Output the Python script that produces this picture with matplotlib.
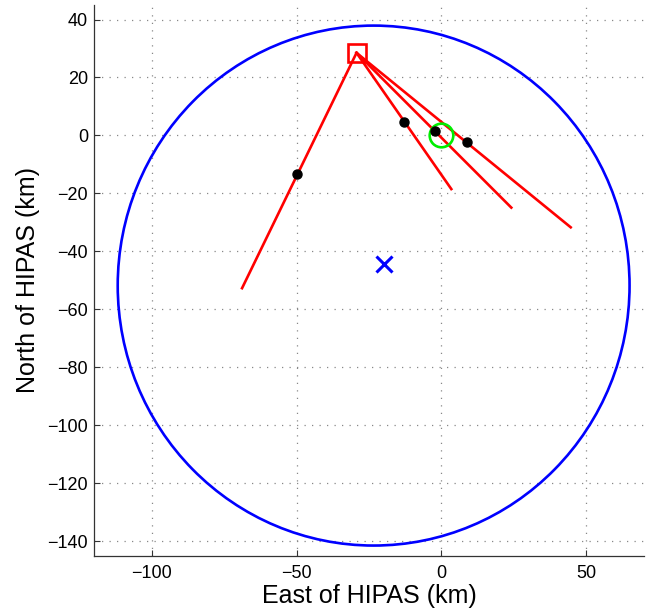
import numpy as np
import matplotlib
matplotlib.use("Agg")
import matplotlib.pyplot as plt
from matplotlib.patches import Ellipse

plt.rcParams['font.family'] = ['Liberation Sans', 'DejaVu Sans']

# transmitter location (red square) and the ray end points
tx_x, tx_y = -29.3, 28.5
end_x = [-68.8, 3.4, 24.1, 44.6]
end_y = [-52.7, -18.5, -24.9, -31.7]

# black dots along the rays
dot_x = [-49.7, -12.9, -2.2, 8.7]
dot_y = [-13.2, 4.7, 1.5, -2.4]

# HIPAS (green), blue cross, range ring
hipas_x, hipas_y = 0.0, 0.0
cross_x, cross_y = -19.8, -44.3
ring_x, ring_y = -23.4, -51.8
ring_w, ring_h = 176.6, 179.4

xticks = [-100, -50, 0, 50]
yticks = [40, 20, 0, -20, -40, -60, -80, -100, -120, -140]

fig = plt.figure(figsize=(6.52, 6.12), dpi=100)
ax = fig.add_axes([0.1431, 0.092, 0.8457, 0.8998])

ax.add_patch(Ellipse((ring_x, ring_y), ring_w, ring_h, fill=False, color='#0000ff', lw=1.9, zorder=3))

for ex, ey in zip(end_x, end_y):
    ax.plot([tx_x, ex], [tx_y, ey], color='#ff0000', lw=1.9, zorder=4)

ax.plot(tx_x, tx_y, 's', ms=13, mfc='none', mec='#ff0000', mew=1.9, zorder=5)
ax.plot(dot_x, dot_y, 'o', ms=6.5, color='black', zorder=6)
ax.plot(hipas_x, hipas_y, 'o', ms=17, mfc='none', mec='#00ee00', mew=1.9, zorder=5)
ax.plot(cross_x, cross_y, 'x', ms=11, mew=2.2, color='#0000ff', zorder=5)

ax.set_xlim(-120, 70)
ax.set_ylim(-145, 45)
ax.set_aspect('equal', adjustable='box')
ax.set_xticks(xticks)
ax.set_yticks(yticks)
ax.set_xticklabels(['\u2212100', '\u221250', '0', '50'])
ax.set_yticklabels([str(v).replace('-', '\u2212') for v in yticks])

ax.grid(True, color='#888888', linestyle=(0, (1, 5)), lw=0.9)
ax.set_axisbelow(True)
ax.spines['top'].set_visible(False)
ax.spines['right'].set_visible(False)
for s in ['left', 'bottom']:
    ax.spines[s].set_color('#333333')
    ax.spines[s].set_linewidth(0.9)
ax.tick_params(direction='in', length=4, width=0.8, color='#333333', labelsize=13, pad=4)
ax.tick_params(axis='x', pad=7)

ax.set_xlabel('East of HIPAS (km)', fontsize=18, labelpad=1)
ax.set_ylabel('North of HIPAS (km)', fontsize=18, labelpad=5)

fig.savefig('out.png', dpi=100)
